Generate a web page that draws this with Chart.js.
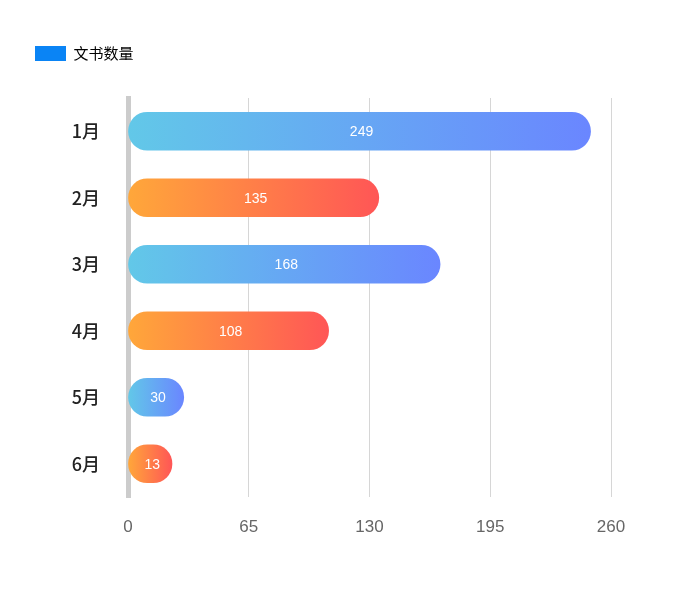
<!DOCTYPE html>
<html lang="zh">
<head>
    <meta charset="UTF-8">
    <title>文书数量</title>
    <style>
        body { margin: 0; background: #fff; }
        #chart { display: block; }
    </style>
</head>
<body>
    <canvas id="chart" width="692" height="603"></canvas>

    <script src="https://cdn.jsdelivr.net/npm/chart.js"></script>
    <script>
        // data
        const months = ['1月', '2月', '3月', '4月', '5月', '6月'];
        const docCounts = [249, 135, 168, 108, 30, 13];
        const xTicks = [0, 65, 130, 195, 260];

        // gradient pairs, alternate per bar
        const blueGrad = ['#62c8e8', '#6a86ff'];
        const orangeGrad = ['#ffa73a', '#ff5656'];

        function barFill(ctx) {
            const chart = ctx.chart;
            const area = chart.chartArea;
            if (!area || ctx.dataIndex === undefined) return blueGrad[0];
            const x = chart.scales.x;
            const x0 = x.getPixelForValue(0);
            const x1 = Math.max(x.getPixelForValue(ctx.raw), x0 + 44);
            const pair = ctx.dataIndex % 2 === 0 ? blueGrad : orangeGrad;
            const g = chart.ctx.createLinearGradient(x0, 0, x1, 0);
            g.addColorStop(0, pair[0]);
            g.addColorStop(1, pair[1]);
            return g;
        }

        // space between legend and plot
        const legendGap = {
            id: 'legendGap',
            beforeInit(chart) {
                const fit = chart.legend.fit;
                chart.legend.fit = function () {
                    fit.bind(chart.legend)();
                    this.height += 27;
                };
            }
        };

        // value text inside each bar
        const barLabels = {
            id: 'barLabels',
            afterDatasetsDraw(chart) {
                const c = chart.ctx;
                const meta = chart.getDatasetMeta(0);
                c.save();
                c.fillStyle = '#ffffff';
                c.font = '14px "Liberation Sans", Arial, sans-serif';
                c.textAlign = 'center';
                c.textBaseline = 'middle';
                meta.data.forEach((bar, i) => {
                    const p = bar.getProps(['x', 'y', 'base'], true);
                    c.fillText(docCounts[i], (p.x + p.base) / 2 + 2, p.y + 1);
                });
                c.restore();
            }
        };

        new Chart(document.getElementById('chart'), {
            type: 'bar',
            data: {
                labels: months,
                datasets: [{
                    label: '文书数量',
                    data: docCounts,
                    backgroundColor: barFill,
                    barThickness: 38,
                    minBarLength: 44,
                    borderRadius: 19,
                    borderSkipped: false
                }]
            },
            options: {
                indexAxis: 'y',
                responsive: false,
                animation: false,
                layout: { padding: { left: 25, right: 81, top: 36, bottom: 46 } },
                scales: {
                    x: {
                        min: 0,
                        max: 260,
                        afterBuildTicks: s => { s.ticks = xTicks.map(v => ({ value: v })); },
                        afterFit: s => { s.height = 60; },
                        grid: { color: '#d6d6d6', lineWidth: 1, drawTicks: false },
                        border: { display: false },
                        ticks: {
                            padding: 20,
                            color: '#666',
                            font: { size: 17, family: '"Liberation Sans", Arial, sans-serif' }
                        }
                    },
                    y: {
                        z: 1,
                        afterFit: s => { s.width = 103; },
                        grid: { display: false, drawTicks: false },
                        border: { display: true, color: '#cccccc', width: 5 },
                        ticks: {
                            padding: 28,
                            color: '#222',
                            font: { size: 18, weight: '500', family: '"Noto Sans CJK SC", sans-serif' }
                        }
                    }
                },
                plugins: {
                    legend: {
                        align: 'start',
                        labels: {
                            boxWidth: 31,
                            boxHeight: 15,
                            padding: 10,
                            color: '#333',
                            font: { size: 15, family: '"Noto Sans CJK SC", sans-serif' },
                            generateLabels: () => [{
                                text: '文书数量',
                                fillStyle: '#0a84f5',
                                strokeStyle: '#0a84f5',
                                lineWidth: 0,
                                datasetIndex: 0
                            }]
                        }
                    },
                    tooltip: { enabled: false }
                }
            },
            plugins: [legendGap, barLabels]
        });
    </script>
</body>
</html>
